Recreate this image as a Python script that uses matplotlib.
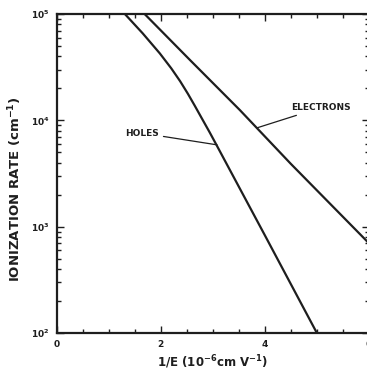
import matplotlib
matplotlib.use("Agg")
import matplotlib.pyplot as plt
from matplotlib.ticker import LogLocator, MultipleLocator, NullFormatter, FixedLocator

plt.rcParams["font.family"] = ["DejaVu Sans"]
plt.rcParams["font.weight"] = "bold"
plt.rcParams["mathtext.fontset"] = "dejavusans"
plt.rcParams["mathtext.default"] = "bf"

INK = "#1e1e1e"

# ionization rate vs reciprocal field (1/E in 1e-6 cm/V)
electron_inv_e = [1.69, 2.56, 3.52, 4.50, 6.00]
electron_rate = [1.0e5, 3.7e4, 1.25e4, 3.9e3, 7.0e2]

hole_inv_e = [1.31, 1.65, 1.98, 2.20, 2.37, 2.52, 2.65, 2.80, 2.94, 3.08, 4.00, 5.00]
hole_rate = [1.0e5, 6.6e4, 4.27e4, 3.09e4, 2.34e4, 1.78e4, 1.38e4, 1.02e4, 7.7e3, 5.75e3, 8.3e2, 1.0e2]

x_ticks = [0, 2, 4, 6]
y_ticks = [1e2, 1e3, 1e4, 1e5]
y_tick_labels = [r"$10^{2}$", r"$10^{3}$", r"$10^{4}$", r"$10^{5}$"]

fig = plt.figure(figsize=(3.67, 3.72), dpi=100)
ax = fig.add_axes([0.155, 0.105, 0.850, 0.857])

ax.plot(electron_inv_e, electron_rate, color=INK, lw=1.6, solid_capstyle="butt")
ax.plot(hole_inv_e, hole_rate, color=INK, lw=1.6, solid_capstyle="butt")

ax.set_yscale("log")
ax.set_xlim(0, 6)
ax.set_ylim(1e2, 1e5)

ax.xaxis.set_major_locator(FixedLocator(x_ticks))
ax.set_xticklabels([str(t) for t in x_ticks])
ax.xaxis.set_minor_locator(MultipleLocator(0.5))
ax.yaxis.set_major_locator(FixedLocator(y_ticks))
ax.set_yticklabels(y_tick_labels)
ax.yaxis.set_minor_locator(LogLocator(base=10, subs=range(2, 10)))
ax.yaxis.set_minor_formatter(NullFormatter())

ax.tick_params(which="both", direction="in", top=True, right=True,
               color=INK, labelcolor=INK, width=1.0)
ax.tick_params(which="major", length=5, labelsize=6.5, pad=5)
ax.tick_params(which="minor", length=3)

for s in ax.spines.values():
    s.set_linewidth(1.6)
    s.set_color(INK)

ax.set_xlabel(r"1/E (10$^{-6}$cm V$^{-1}$)", fontsize=8.5, fontweight="bold",
              color=INK, labelpad=3)
ax.set_ylabel(r"IONIZATION RATE (cm$^{-1}$)", fontsize=9.5, fontweight="bold",
              color=INK)
ax.yaxis.set_label_coords(-0.105, 0.45)

# curve labels with leader lines
ax.annotate("HOLES", xy=(3.08, 10 ** 3.77), xytext=(1.97, 10 ** 3.88),
            fontsize=6.5, fontweight="bold", color=INK, ha="right", va="center",
            arrowprops=dict(arrowstyle="-", color=INK, lw=0.9, shrinkA=1, shrinkB=0))
ax.annotate("ELECTRONS", xy=(3.85, 10 ** 3.93), xytext=(4.50, 10 ** 4.12),
            fontsize=6.5, fontweight="bold", color=INK, ha="left", va="center",
            arrowprops=dict(arrowstyle="-", color=INK, lw=0.9, shrinkA=1, shrinkB=0))

fig.savefig("out.png", dpi=100)
